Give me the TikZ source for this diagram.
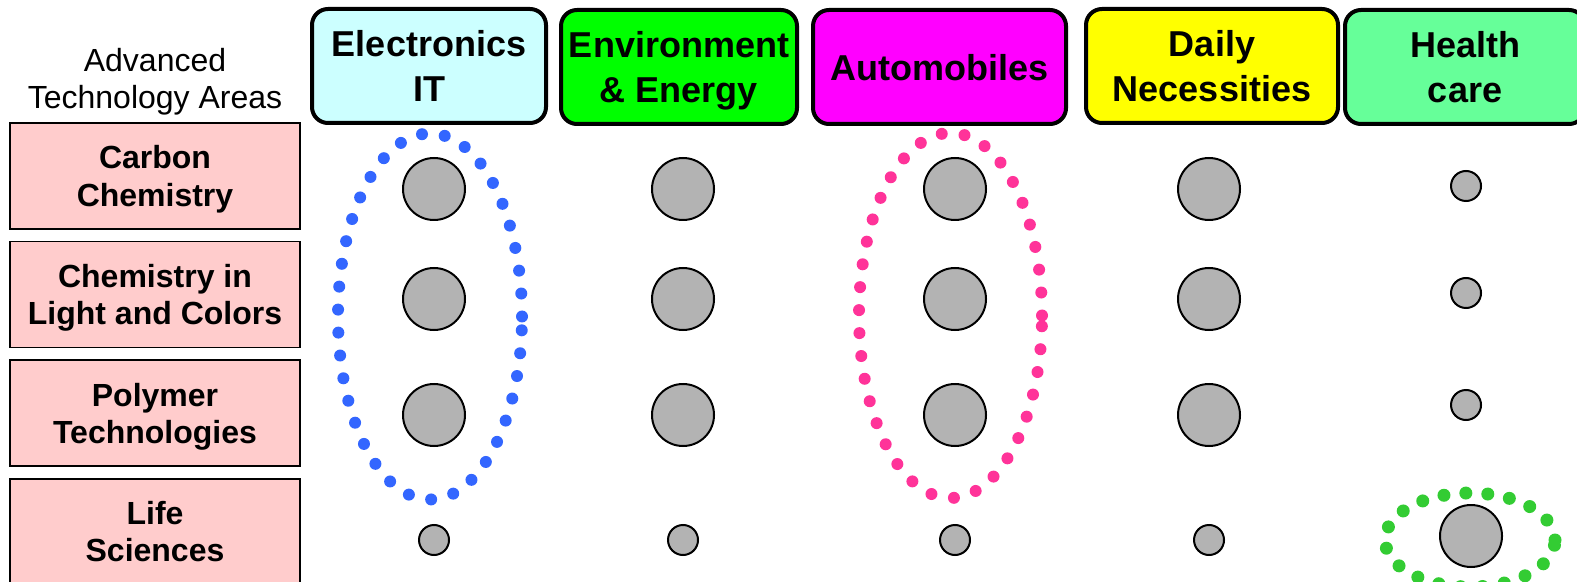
\documentclass[tikz,border=0pt]{standalone}
\usepackage{fontspec}
\setmainfont{Liberation Sans}
\usepackage{tikz}
\usetikzlibrary{positioning}

\definecolor{elecfill}{HTML}{CCFFFF}
\definecolor{envfill}{HTML}{00FF00}
\definecolor{autofill}{HTML}{FF00FF}
\definecolor{dailyfill}{HTML}{FFFF00}
\definecolor{healthfill}{HTML}{66FF99}
\definecolor{areapink}{HTML}{FFCCCC}
\definecolor{dotgray}{HTML}{B3B3B3}
\definecolor{ringblue}{HTML}{3366FF}
\definecolor{ringpink}{HTML}{FF3399}
\definecolor{ringgreen}{HTML}{33CC33}

\begin{document}
\begin{tikzpicture}
    [ x = .5pt, y = -.5pt
    , head/.style =
      { draw, line width = 2pt, rounded corners = 8pt, align = center
      , minimum height = 57pt, inner sep = 0pt, text depth = 0pt
      , font = \bfseries\fontsize{18}{22.5}\selectfont }
    , area/.style =
      { draw, fill = areapink, line width = .8pt, align = center
      , minimum width = 145pt, minimum height = 53pt, inner sep = 0pt
      , text depth = 0pt
      , font = \bfseries\fontsize{16}{18.6}\selectfont }
    , bigdot/.style =
      { draw, circle, fill = dotgray, line width = 1pt
      , minimum size = 31pt, inner sep = 0pt }
    , smalldot/.style =
      { bigdot, minimum size = 15pt }
    , ring/.style =
      { line width = 6pt, line cap = round, dash pattern = on 0pt off 11.5pt }
    ]
    \useasboundingbox (0,0) rectangle (1577,582);
    \clip (0,0) rectangle (1577,582);

    \node (title) [align=center, font=\fontsize{16}{18.6}\selectfont] at (155,82) {Advanced\\Technology Areas};

    \node [head,fill=elecfill,minimum width=117pt] (elec) at (429,66) {Electronics\\IT};
    \node [head,fill=envfill,minimum width=118pt] (env) at (679,67) {Environment\\\& Energy};
    \node [head,fill=autofill,minimum width=126.5pt] (auto) at (939.5,67) {Automobiles};
    \node [head,fill=dailyfill,minimum width=126pt] (daily) at (1212,66) {Daily\\Necessities};
    \node [head,fill=healthfill,minimum width=120pt] (health) at (1465,67) {Health\\care};

    \node [area] (carbon) at (155,176) {Carbon\\Chemistry};
    \node [area] (light) [below=5.5pt of carbon] {Chemistry in\\Light and Colors};
    \node [area] (polymer) [below=5.5pt of light] {Polymer\\Technologies};
    \node [area] (life) [below=5.5pt of polymer] {Life\\Sciences};

    \node [bigdot] (e1) at (434,189) {};
    \node [bigdot] (e2) at (434,299) {};
    \node [bigdot] (e3) at (434,415) {};
    \node [smalldot] (e4) at (434,540) {};
    \node [bigdot] (v1) at (683,189) {};
    \node [bigdot] (v2) at (683,299) {};
    \node [bigdot] (v3) at (683,415) {};
    \node [smalldot] (v4) at (683,540) {};
    \node [bigdot] (a1) at (955,189) {};
    \node [bigdot] (a2) at (955,299) {};
    \node [bigdot] (a3) at (955,415) {};
    \node [smalldot] (a4) at (955,540) {};
    \node [bigdot] (d1) at (1209,189) {};
    \node [bigdot] (d2) at (1209,299) {};
    \node [bigdot] (d3) at (1209,415) {};
    \node [smalldot] (d4) at (1209,540) {};
    \node [smalldot] (h1) at (1466,186) {};
    \node [smalldot] (h2) at (1466,293) {};
    \node [smalldot] (h3) at (1466,405) {};
    \node [bigdot] (h4) at (1471,536) {};

    \draw [ring,ringblue] (430,316.5) ellipse [x radius=46pt, y radius=91.5pt];
    \draw [ring,ringpink] (950.5,315.5) ellipse [x radius=45.75pt, y radius=91.25pt];
    \draw [ring,ringgreen,line width=6.5pt,dash pattern=on 0pt off 11pt] (1470,540) ellipse [x radius=42.5pt, y radius=23.5pt];
  \end{tikzpicture}
\end{document}
